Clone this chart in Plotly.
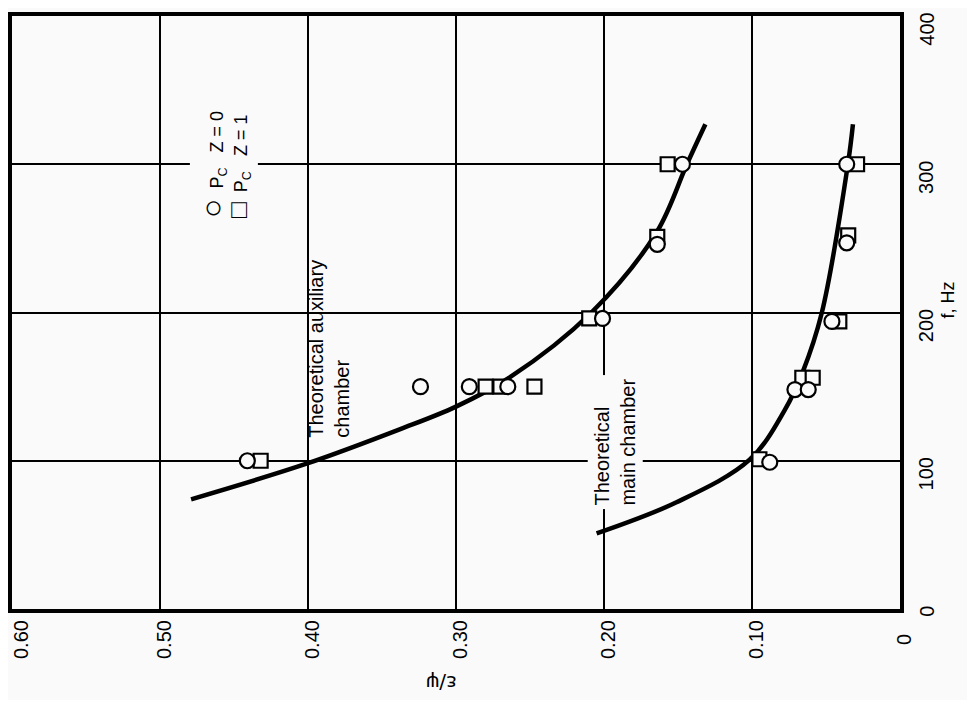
import plotly.graph_objects as go

# ---- data (x = epsilon/psi, y = f in Hz) ----
aux_curve_x = [0.479, 0.401, 0.3385, 0.30, 0.264, 0.2085, 0.1645, 0.144, 0.1315]
aux_curve_y = [74, 98, 121, 136.5, 156, 200, 254, 300, 327]
main_curve_x = [0.205, 0.151, 0.1016, 0.078, 0.0657, 0.0528, 0.0352, 0.0318]
main_curve_y = [51, 72, 100.7, 134, 160, 200, 300, 327]

aux_circle_x = [0.441, 0.324, 0.291, 0.265, 0.201, 0.164, 0.147]
aux_circle_y = [100, 150, 150, 150, 196, 246, 300]
aux_square_x = [0.432, 0.280, 0.270, 0.247, 0.210, 0.164, 0.157]
aux_square_y = [100, 150, 150, 150, 196, 251, 300]

main_circle_x = [0.088, 0.071, 0.062, 0.046, 0.036, 0.036]
main_circle_y = [99, 148, 148, 194, 247, 300]
main_square_x = [0.095, 0.066, 0.059, 0.041, 0.035, 0.029]
main_square_y = [101, 156, 156, 194, 252, 300]

x_ticks = [0.6, 0.5, 0.4, 0.3, 0.2, 0.1, 0.0]
x_tick_text = ["0.60", "0.50", "0.40", "0.30", "0.20", "0.10", "0"]
y_ticks = [0, 100, 200, 300, 400]
y_tick_text = ["0", "100", "200", "300", "400"]

BG = "#fafafa"
FONT = "Liberation Sans, Arial, sans-serif"

fig = go.Figure()

for cx, cy in [(aux_curve_x, aux_curve_y), (main_curve_x, main_curve_y)]:
    fig.add_trace(go.Scatter(x=cx, y=cy, mode="lines", line=dict(color="black", width=4.5, shape="spline", smoothing=1.0),
                             hoverinfo="skip", showlegend=False))

for sx, sy in [(aux_square_x, aux_square_y), (main_square_x, main_square_y)]:
    fig.add_trace(go.Scatter(x=sx, y=sy, mode="markers",
                             marker=dict(symbol="square", size=14, color=BG, line=dict(color="black", width=2.2)),
                             showlegend=False))
for sx, sy in [(aux_circle_x, aux_circle_y), (main_circle_x, main_circle_y)]:
    fig.add_trace(go.Scatter(x=sx, y=sy, mode="markers",
                             marker=dict(symbol="circle", size=15, color=BG, line=dict(color="black", width=2.2)),
                             showlegend=False))

annotations = []
# x tick labels (rotated)
for i, (v, t) in enumerate(zip(x_ticks, x_tick_text)):
    annotations.append(dict(x=v, y=-0.0523, xref="x", yref="paper", text=t, showarrow=False,
                            textangle=-90, xanchor="center", yanchor="middle", xshift=(9 if i == 0 else 4),
                            borderpad=0,
                            font=dict(family=FONT, size=20, color="black")))
# y tick labels on the right (rotated)
for v, t in zip(y_ticks, y_tick_text):
    annotations.append(dict(x=1.0295, y=v, xref="paper", yref="y", text=t, showarrow=False,
                            textangle=-90, xanchor="center", yanchor="top", yshift=5,
                            font=dict(family=FONT, size=20, color="black")))
# axis titles
annotations.append(dict(x=0.483, y=-0.125, xref="paper", yref="paper", text="ε/ψ", showarrow=False,
                        textangle=180, xanchor="center", yanchor="middle",
                        font=dict(family="DejaVu Sans, sans-serif", size=20, color="black")))
annotations.append(dict(x=1.0545, y=0.521, xref="paper", yref="paper", text="f, Hz", showarrow=False,
                        textangle=-90, xanchor="center", yanchor="middle",
                        font=dict(family=FONT, size=18, color="black")))
# curve labels
annotations.append(dict(x=0.386, y=114, xref="x", yref="y", text="Theoretical auxiliary<br>chamber",
                        showarrow=False, textangle=-90, align="left", xanchor="center", yanchor="bottom",
                        font=dict(family=FONT, size=20, color="black")))
annotations.append(dict(x=0.1923, y=67, xref="x", yref="y", text="Theoretical<br>main chamber",
                        showarrow=False, textangle=-90, align="left", xanchor="center", yanchor="bottom",
                        bgcolor=BG, borderpad=3,
                        font=dict(family=FONT, size=20, color="black")))
# legend
circ = '<span style="font-size:32px">○</span>'
squ = '<span style="font-size:26px">□</span>'
annotations.append(dict(x=0.457, y=300, xref="x", yref="y",
                        text=circ + "  P<sub>C</sub>   Z = 0<br>" + squ + "  P<sub>C</sub>   Z = 1",
                        showarrow=False, textangle=-90, align="left", xanchor="center", yanchor="middle",
                        bgcolor=BG, borderpad=4,
                        font=dict(family=FONT, size=18, color="black")))

# page body has an 8px default margin: shrink the figure and margins to compensate
fig.update_layout(
    width=959, height=692,
    margin=dict(l=4, r=67, t=8, b=91),
    paper_bgcolor=BG, plot_bgcolor=BG,
    annotations=annotations,
    showlegend=False,
)
fig.update_xaxes(range=[0.6, 0.0], tickvals=x_ticks, showticklabels=False, ticks="",
                 showgrid=True, gridcolor="black", gridwidth=1.5, zeroline=False,
                 showline=True, linecolor="black", linewidth=4, mirror=True)
fig.update_yaxes(range=[0, 400], tickvals=y_ticks, showticklabels=False, ticks="",
                 showgrid=True, gridcolor="black", gridwidth=1.5, zeroline=False,
                 showline=True, linecolor="black", linewidth=4, mirror=True)

fig.write_html("out.html")
